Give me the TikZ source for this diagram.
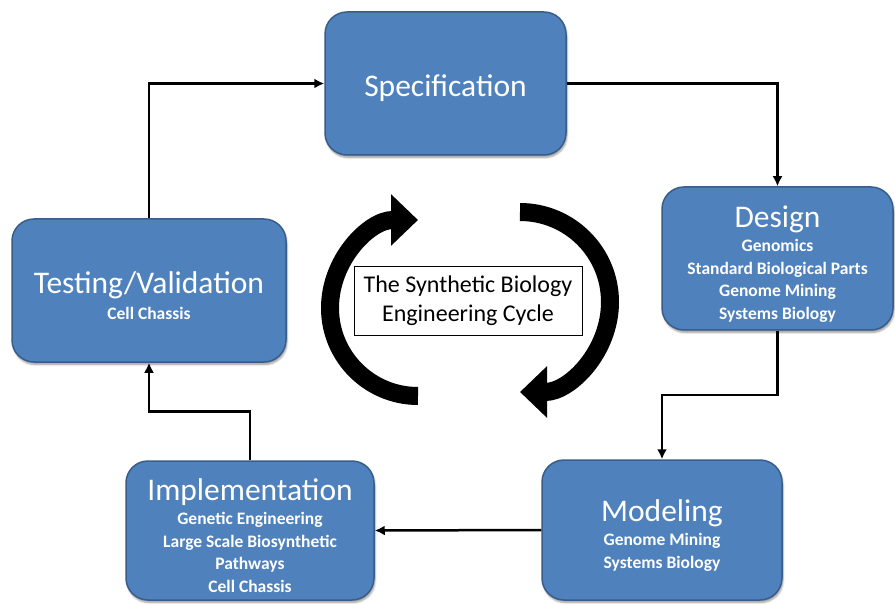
\documentclass[tikz,border=0pt]{standalone}
\usepackage{fontspec}
\setmainfont{Carlito}
\usepackage{tikz}
\usetikzlibrary{positioning, calc, arrows.meta, shadows.blur}

\definecolor{BoxBlue}{RGB}{79,129,189}
\definecolor{BoxEdge}{RGB}{56,93,138}

\newcommand{\stagename}[1]{{\mdseries\fontsize{31.5}{36}\selectfont\rule{0pt}{32pt}#1}}

\begin{document}
\begin{tikzpicture}[x=1pt, y=-1pt,
    stage/.style={draw=BoxEdge, fill=BoxBlue, line width=1.5pt,
        rounded corners=22pt, text=white, align=center,
        font=\bfseries\fontsize{17.5}{22.5}\selectfont,
        blur shadow={shadow xshift=1pt, shadow yshift=-2.5pt, shadow blur steps=5}},
    link/.style={-{Latex[length=10pt, width=10pt]}, line width=2.5pt},
    turn/.style={line width=18pt, -{Triangle[length=27pt, width=50pt]}}]

    \useasboundingbox (0,0) rectangle (895,604);

    % the five stages
    \node[stage, minimum width=241pt, minimum height=143pt] (spec) at (445.5,83.5)
        {\stagename{Specification}};
    \node[stage, minimum width=231pt, minimum height=143pt] (design) at (777.5,258.5)
        {\stagename{Design}\\[2pt]
         Genomics\\ Standard Biological Parts\\ Genome Mining\\ Systems Biology};
    \node[stage, minimum width=240pt, minimum height=140pt] (model) at (662,530)
        {\stagename{Modeling}\\[2pt]
         Genome Mining\\ Systems Biology};
    \node[stage, minimum width=248pt, minimum height=139pt] (impl) at (250,530.5)
        {\stagename{Implementation}\\[2pt]
         Genetic Engineering\\ Large Scale Biosynthetic\\ Pathways\\ Cell Chassis};
    \node[stage, minimum width=274pt, minimum height=143pt] (test) at (149,290.5)
        {\stagename{Testing/Validation}\\[3pt]
         Cell Chassis};

    % connectors between stages
    \draw[link] (test.north) |- (spec.west);
    \draw[link] (spec.east) -| (design.north);
    \draw[link] (design.south) |- ($(design.south)!0.5!(model.north)$) -| (model.north);
    \draw[link] (model.west) -- (impl.east);
    \draw[link] (impl.north) |- ($(impl.north)!0.5!(test.south)$) -| (test.south);

    % the cycle in the middle
    \node[draw, line width=0.8pt, fill=white, align=center,
        minimum width=228pt, minimum height=69pt,
        font=\fontsize{24}{29.5}\selectfont
    ](cycle) at (468,300.5) {The Synthetic Biology\\ Engineering Cycle};

    \coordinate (lefttail) at (418,396);
    \coordinate (righttail) at (520,212);
    \draw[turn] (lefttail) arc[start angle=90, end angle=270, radius=88];
    \draw[turn] (righttail) arc[start angle=-90, end angle=90, radius=90];
\end{tikzpicture}
\end{document}
